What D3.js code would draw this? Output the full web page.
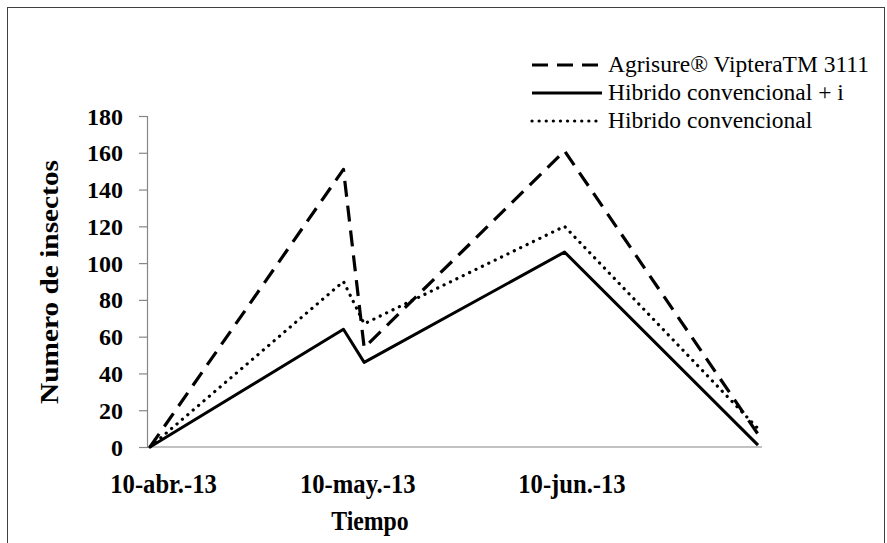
<!DOCTYPE html>
<html><head><meta charset="utf-8">
<script src="https://cdn.jsdelivr.net/npm/d3@7"></script>
<style>
html,body{margin:0;padding:0;background:#fff;}
svg{display:block;}
text{font-family:"Liberation Serif","Times New Roman","DejaVu Serif",serif;fill:#000;}
</style></head>
<body>
<svg id="chart" width="887" height="543"></svg>
<script>
const dates = ["2013-04-10","2013-05-08","2013-05-11","2013-06-09","2013-07-07"];
const seriesNames = ["Agrisure® VipteraTM 3111","Hibrido convencional + i","Hibrido convencional"];
const agrisure = [0,151,54,161,7];
const hibridoI = [0,64,46,106,1];
const hibrido = [0,90,67,120,10];
const yTicks = [0,20,40,60,80,100,120,140,160,180];
const xTickDates = ["2013-04-10","2013-05-10","2013-06-10"];
const xTickLabels = ["10-abr.-13","10-may.-13","10-jun.-13"];
const xTitle = "Tiempo";
const yTitle = "Numero de insectos";

const parse = d3.timeParse("%Y-%m-%d");
const svg = d3.select("#chart");
const FF = "Liberation Serif, Times New Roman, DejaVu Serif, serif";
const SXB = 0.88;

// outer border
svg.append("rect").attr("x",7.5).attr("y",7.5).attr("width",877).attr("height",600)
  .attr("fill","none").attr("stroke","#404040").attr("stroke-width",1);

const x = d3.scaleTime().domain([parse(dates[0]), parse(dates[dates.length-1])]).range([150,758]);
const y = d3.scaleLinear().domain([0,180]).range([447,116]);

// y axis
const yAx = svg.append("g").attr("transform","translate(147,0)")
  .call(d3.axisLeft(y).tickValues(yTicks).tickSize(8).tickFormat(d3.format("d")));
yAx.attr("font-family",FF);
yAx.select(".domain").attr("stroke","#868686").attr("stroke-width",1.2);
yAx.selectAll(".tick line").attr("stroke","#868686").attr("stroke-width",1.2);
yAx.selectAll(".tick text").attr("x",-24).attr("dy",null).attr("y",8)
  .attr("font-size",24).attr("font-weight","bold").attr("fill","#000");

// x axis line
const xAx = svg.append("g").attr("transform","translate(0,447)")
  .call(d3.axisBottom(x).tickValues(xTickDates.map(parse)).tickSize(0)
    .tickFormat((d,i)=>xTickLabels[i]));
xAx.attr("font-family",FF);
xAx.select(".domain").attr("stroke","#868686").attr("stroke-width",1.2)
  .attr("d","M147,0H762");
xAx.selectAll(".tick text").attr("y",null).attr("dy",null)
  .attr("transform",(d,i)=>`translate(${i===0?13:0},46) scale(${SXB},1)`)
  .attr("font-size",28).attr("font-weight","bold").attr("fill","#000");

// titles
svg.append("text").attr("transform",`translate(370,530) scale(${SXB},1)`)
  .attr("text-anchor","middle").attr("font-size",27).attr("font-weight","bold").text(xTitle);
svg.append("text").attr("transform",`translate(58,282) rotate(-90)`)
  .attr("text-anchor","middle").attr("font-size",26).attr("font-weight","bold")
  .attr("textLength",244).attr("lengthAdjust","spacingAndGlyphs").text(yTitle);

// lines
const styles = [
  {data:agrisure, dash:"16,9", w:3.2, cap:"butt"},
  {data:hibridoI, dash:null, w:3, cap:"butt"},
  {data:hibrido, dash:"0.1,7", w:3.2, cap:"round"}
];
const line = d3.line().x((d,i)=>x(parse(dates[i]))).y(d=>y(d));
styles.forEach(s=>{
  svg.append("path").datum(s.data).attr("d",line).attr("fill","none")
    .attr("stroke","#000").attr("stroke-width",s.w)
    .attr("stroke-dasharray",s.dash).attr("stroke-linecap",s.cap).attr("stroke-linejoin","round");
});

// legend
const legY = [65,93,121];
styles.forEach((s,i)=>{
  svg.append("line").attr("x1",532).attr("x2",602).attr("y1",legY[i]).attr("y2",legY[i])
    .attr("stroke","#000").attr("stroke-width",s.w).attr("stroke-dasharray",s.dash)
    .attr("stroke-linecap",s.cap);
  svg.append("text").attr("x",608).attr("y",legY[i]+7)
    .attr("font-size",23.5).text(seriesNames[i]);
});
</script>
</body></html>
